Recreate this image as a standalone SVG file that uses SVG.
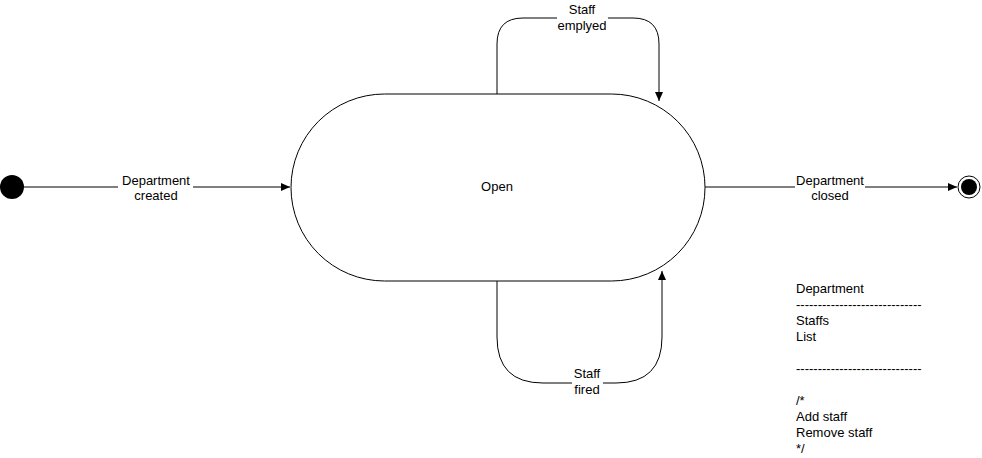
<svg xmlns="http://www.w3.org/2000/svg" width="982" height="458" viewBox="0 0 982 458">
<style>
text{font-family:"Liberation Sans",Arial,sans-serif;font-size:13px;fill:#000}
.c{text-anchor:middle}
.ln{fill:none;stroke:#000;stroke-width:1}
.bg{fill:#fff}
</style>
<defs>
<marker id="ar" markerWidth="10" markerHeight="8" refX="9" refY="4" orient="auto" markerUnits="userSpaceOnUse">
<path d="M0,0 L9,4 L0,8 Z" fill="#000"/>
</marker>
</defs>
<rect width="982" height="458" fill="#fff"/>
<g id="connectors">
<path class="ln" d="M24,187 H290" marker-end="url(#ar)"/>
<path class="ln" d="M705,187 H957" marker-end="url(#ar)"/>
<path class="ln" d="M497,94 V44 Q497,18 523,18 H633 Q659,18 659,44 V101" marker-end="url(#ar)"/>
<path class="ln" d="M497,281 V337 Q497,383 543,383 H616 Q662,383 662,337 V271" marker-end="url(#ar)"/>
<rect class="bg" x="118" y="171" width="75" height="32"/>
<text class="c" x="156" y="185">Department</text>
<text class="c" x="156" y="200">created</text>
<rect class="bg" x="795" y="171" width="70" height="32"/>
<text class="c" x="830" y="185">Department</text>
<text class="c" x="830" y="200">closed</text>
<rect class="bg" x="557" y="0" width="51" height="34"/>
<text class="c" x="582" y="14">Staff</text>
<text class="c" x="582" y="30">emplyed</text>
<rect class="bg" x="572" y="366" width="31" height="34"/>
<text class="c" x="587" y="378">Staff</text>
<text class="c" x="587" y="394">fired</text>
</g>
<g id="initial"><circle cx="12" cy="187" r="12" fill="#000"/></g>
<g id="open">
<rect x="291" y="94" width="414" height="187" rx="93.5" ry="93.5" fill="#fff" stroke="#000"/>
<text class="c" x="497" y="191">Open</text>
</g>
<g id="final">
<circle cx="969" cy="187" r="11" fill="#fff" stroke="#000"/>
<circle cx="969" cy="187" r="8" fill="#000"/>
</g>
<g id="note">
<text x="796" y="293">Department</text>
<text x="796" y="309">-----------------------------</text>
<text x="796" y="325">Staffs</text>
<text x="796" y="341">List</text>
<text x="796" y="373">-----------------------------</text>
<text x="796" y="405">/*</text>
<text x="796" y="421">Add staff</text>
<text x="796" y="437">Remove staff</text>
<text x="796" y="453">*/</text>
</g>
</svg>
